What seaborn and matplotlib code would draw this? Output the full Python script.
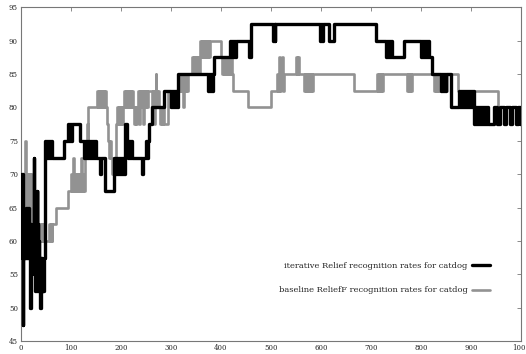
import matplotlib
matplotlib.use('Agg')
import pandas as pd
import matplotlib.pyplot as plt
import seaborn as sns

# iteration index where a new recognition rate starts (step-post) and the rate
black_iter = [0, 1, 2, 3, 4, 5, 6, 7, 8, 9, 10, 11, 12, 13, 14, 15, 16, 17, 19, 20,
              21, 22, 23, 24, 25, 26, 27, 28, 29, 30, 31, 32, 33, 34, 35, 36, 37, 38, 39, 40,
              41, 42, 43, 44, 45, 46, 48, 50, 52, 54, 56, 58, 60, 62, 86, 95, 97, 99, 101, 103,
              118, 126, 128, 130, 132, 134, 136, 138, 140, 142, 144, 146, 148, 150, 159, 161, 168, 186, 190, 192,
              194, 196, 198, 200, 202, 204, 206, 209, 212, 214, 216, 218, 220, 222, 242, 244, 250, 252, 254, 256,
              262, 286, 300, 302, 304, 306, 308, 310, 312, 315, 374, 376, 378, 380, 382, 384, 386, 418, 420, 422,
              424, 426, 428, 430, 456, 460, 504, 506, 508, 509, 598, 600, 602, 604, 616, 626, 710, 730, 732, 734,
              736, 738, 740, 742, 766, 800, 802, 804, 806, 808, 810, 812, 814, 816, 822, 840, 842, 844, 846, 848,
              850, 860, 876, 878, 880, 882, 884, 886, 888, 890, 892, 894, 896, 898, 900, 902, 904, 906, 908, 910,
              912, 914, 916, 918, 920, 922, 924, 926, 928, 930, 932, 934, 946, 952, 958, 966, 970, 978, 982, 990,
              994, 998, 1000]
black_rate = [70, 62.5, 57.5, 70, 47.5, 60, 57.5, 62.5, 57.5, 60, 57.5, 65, 57.5, 62.5, 57.5, 65, 60, 57.5, 50, 62.5,
              57.5, 60, 57.5, 62.5, 57.5, 72.5, 55, 67.5, 52.5, 65, 55, 67.5, 52.5, 62.5, 55, 60, 52.5, 57.5, 50, 57.5,
              52.5, 57.5, 52.5, 55, 52.5, 57.5, 75, 72.5, 75, 72.5, 75, 72.5, 75, 72.5, 75, 77.5, 75, 77.5, 75, 77.5,
              75, 72.5, 75, 72.5, 75, 72.5, 75, 72.5, 75, 72.5, 75, 72.5, 75, 72.5, 70, 72.5, 67.5, 72.5, 70, 72.5,
              70, 72.5, 70, 72.5, 70, 72.5, 70, 77.5, 75, 72.5, 75, 72.5, 75, 72.5, 70, 72.5, 75, 72.5, 75, 77.5,
              80, 82.5, 80, 82.5, 80, 82.5, 80, 82.5, 80, 85, 82.5, 85, 82.5, 85, 82.5, 85, 87.5, 90, 87.5, 90,
              87.5, 90, 87.5, 90, 87.5, 92.5, 90, 92.5, 90, 92.5, 90, 92.5, 90, 92.5, 90, 92.5, 90, 87.5, 90, 87.5,
              90, 87.5, 90, 87.5, 90, 87.5, 90, 87.5, 90, 87.5, 90, 87.5, 90, 87.5, 85, 82.5, 85, 82.5, 85, 82.5,
              85, 80, 82.5, 80, 82.5, 80, 82.5, 80, 82.5, 80, 82.5, 80, 82.5, 80, 82.5, 80, 82.5, 77.5, 80, 77.5,
              80, 77.5, 80, 77.5, 80, 77.5, 80, 77.5, 80, 77.5, 80, 77.5, 80, 77.5, 80, 77.5, 80, 77.5, 80, 77.5,
              80, 77.5, 77.5]

gray_iter = [0, 1, 2, 3, 4, 5, 6, 7, 8, 9, 10, 11, 12, 13, 14, 15, 16, 17, 18, 19,
             20, 21, 22, 24, 26, 28, 29, 30, 31, 32, 33, 34, 35, 37, 38, 40, 42, 44, 46, 48,
             56, 58, 60, 62, 63, 71, 94, 101, 103, 105, 107, 109, 111, 113, 115, 117, 119, 121, 123, 125,
             127, 129, 131, 132, 134, 135, 152, 154, 156, 158, 160, 162, 164, 166, 168, 170, 172, 174, 176, 178,
             180, 182, 184, 186, 188, 190, 192, 194, 196, 198, 200, 202, 204, 206, 208, 210, 212, 214, 216, 218,
             220, 222, 224, 226, 228, 230, 232, 234, 236, 238, 240, 242, 244, 246, 248, 250, 252, 254, 262, 264,
             266, 268, 270, 271, 272, 274, 276, 278, 280, 282, 284, 286, 294, 296, 298, 300, 302, 304, 306, 316,
             318, 320, 322, 324, 326, 328, 330, 332, 334, 342, 344, 346, 348, 350, 352, 354, 356, 358, 360, 362,
             364, 366, 368, 370, 372, 374, 376, 378, 400, 402, 404, 406, 408, 410, 412, 414, 416, 418, 420, 422,
             424, 454, 500, 512, 514, 516, 518, 520, 522, 524, 526, 550, 552, 554, 556, 566, 568, 570, 572, 574,
             576, 578, 580, 582, 584, 666, 712, 714, 716, 718, 720, 722, 724, 772, 774, 776, 778, 780, 782, 826,
             828, 830, 832, 834, 836, 838, 840, 842, 844, 846, 848, 850, 852, 874, 954, 1000]
gray_rate = [55, 52.5, 62.5, 70, 55, 65, 70, 62.5, 67.5, 75, 62.5, 70, 65, 70, 62.5, 67.5, 65, 70, 62.5, 67.5,
             65, 70, 62.5, 65, 62.5, 60, 67.5, 57.5, 65, 60, 67.5, 57.5, 62.5, 60, 62.5, 60, 62.5, 60, 62.5, 60,
             62.5, 60, 62.5, 60, 62.5, 65, 67.5, 70, 67.5, 72.5, 67.5, 70, 67.5, 70, 67.5, 70, 67.5, 72.5, 67.5, 70,
             67.5, 72.5, 75, 77.5, 75, 80, 82.5, 80, 82.5, 80, 82.5, 80, 82.5, 80, 82.5, 80, 77.5, 75, 72.5, 75,
             72.5, 70, 72.5, 70, 72.5, 77.5, 80, 77.5, 80, 77.5, 80, 77.5, 80, 82.5, 80, 82.5, 80, 82.5, 80, 82.5,
             80, 82.5, 80, 77.5, 80, 77.5, 80, 82.5, 77.5, 82.5, 80, 82.5, 77.5, 82.5, 80, 82.5, 80, 82.5, 80, 82.5,
             77.5, 82.5, 85, 82.5, 80, 82.5, 80, 77.5, 80, 77.5, 80, 77.5, 82.5, 80, 82.5, 80, 82.5, 80, 82.5, 85,
             82.5, 85, 82.5, 80, 85, 82.5, 85, 82.5, 85, 87.5, 85, 87.5, 85, 87.5, 85, 87.5, 85, 90, 87.5, 90,
             87.5, 90, 87.5, 90, 87.5, 90, 87.5, 90, 87.5, 85, 87.5, 85, 87.5, 85, 87.5, 85, 87.5, 85, 87.5, 85,
             82.5, 80, 82.5, 85, 82.5, 87.5, 82.5, 85, 87.5, 82.5, 85, 87.5, 85, 87.5, 85, 82.5, 85, 82.5, 85, 82.5,
             85, 82.5, 85, 82.5, 85, 82.5, 85, 82.5, 85, 82.5, 85, 82.5, 85, 82.5, 85, 82.5, 85, 82.5, 85, 82.5,
             85, 82.5, 85, 82.5, 85, 82.5, 85, 82.5, 85, 82.5, 85, 82.5, 85, 82.5, 80, 80]

labels = ['iterative Relief recognition rates for catdog',
          'baseline ReliefF recognition rates for catdog']

df_black = pd.DataFrame({'iteration': black_iter, 'rate': black_rate})
df_gray = pd.DataFrame({'iteration': gray_iter, 'rate': gray_rate})

sns.set_style('white')
plt.rcParams['font.family'] = ['DejaVu Serif']

fig = plt.figure(figsize=(5.26, 3.54), dpi=100)
ax = fig.add_axes([0.0394, 0.0359, 0.951, 0.9435])

sns.lineplot(data=df_black, x='iteration', y='rate', ax=ax, color='black',
             linewidth=2.4, drawstyle='steps-post', errorbar=None, label=labels[0],
             zorder=3)
sns.lineplot(data=df_gray, x='iteration', y='rate', ax=ax, color='#929292',
             linewidth=1.9, drawstyle='steps-post', errorbar=None, label=labels[1],
             zorder=2)

ax.set_xlim(0, 1000)
ax.set_ylim(45, 95)
ax.set_xticks(range(0, 1001, 100))
ax.set_yticks(range(45, 96, 5))
ax.set_xlabel('')
ax.set_ylabel('')
ax.tick_params(direction='in', top=True, right=True, length=3, width=0.6,
               color='#777777', labelsize=5, pad=2)
for s in ax.spines.values():
    s.set_color('#777777')
    s.set_linewidth(0.8)

leg = ax.legend(loc='upper right', bbox_to_anchor=(0.938, 0.238),
                markerfirst=False, frameon=False, fontsize=6.0,
                handlelength=2.2, handletextpad=0.5, labelspacing=2.0,
                borderpad=0, borderaxespad=0)

fig.savefig('out.png', dpi=100)
